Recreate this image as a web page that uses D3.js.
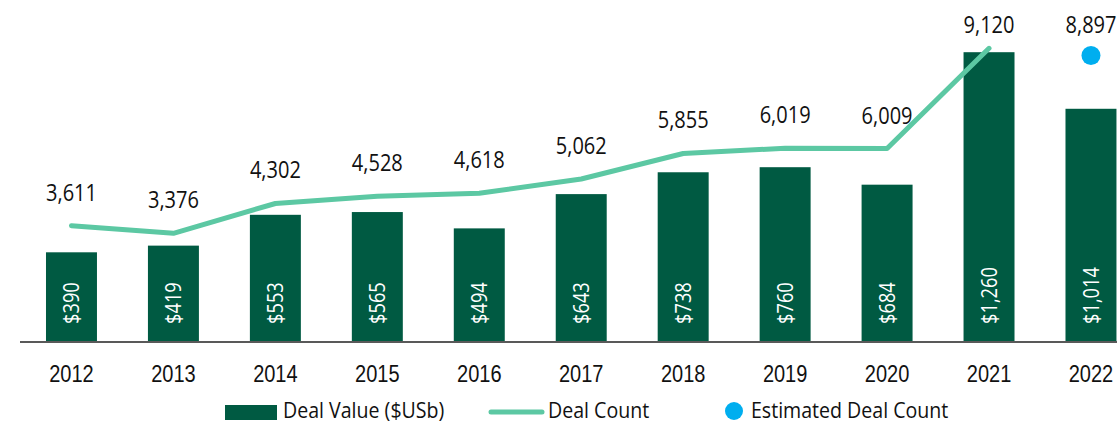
<!DOCTYPE html>
<html>
<head>
<meta charset="utf-8">
<script src="https://cdn.jsdelivr.net/npm/d3@7"></script>
<style>
  html, body { margin: 0; padding: 0; background: #fff; }
  svg { display: block; font-family: "Open Sans", "Liberation Sans", sans-serif; }
</style>
</head>
<body>
<svg id="chart" width="1117" height="424"></svg>
<script>
// Yearly deal activity
const years = ["2012","2013","2014","2015","2016","2017","2018","2019","2020","2021","2022"];
const dealValue = [390, 419, 553, 565, 494, 643, 738, 760, 684, 1260, 1014];
const dealCount = [3611, 3376, 4302, 4528, 4618, 5062, 5855, 6019, 6009, 9120];
const estimatedYear = "2022";
const estimatedCount = 8897;
const legendLabels = ["Deal Value ($USb)", "Deal Count", "Estimated Deal Count"];

const colors = { bar: "#005a42", line: "#5cc8a3", dot: "#00aeef", axis: "#595959", text: "#111" };
const squeeze = 0.87;   // horizontal condensing of all type

const svg = d3.select("#chart");
const baseY = 342, topY = 20;

const x = d3.scaleBand().domain(years).range([20.5, 20.5 + 11 * 101.95])
  .paddingInner(0.5).paddingOuter(0.25);
const yVal = d3.scaleLinear().domain([0, 1400]).range([baseY, topY]);
const yCnt = d3.scaleLinear().domain([0, 10000]).range([baseY, topY]);
const cx = d => x(d) + x.bandwidth() / 2;

// Places a condensed text at (px, py), optionally rotated
function place(sel, px, py, rot) {
  sel.attr("x", 0).attr("y", 0)
    .attr("transform", (d, i) => `translate(${px(d, i)},${py(d, i)})` + (rot ? ` rotate(${rot})` : "") + ` scale(${squeeze},1)`);
}

// Bars
svg.append("g").selectAll("rect").data(years).join("rect")
  .attr("x", d => x(d)).attr("width", x.bandwidth())
  .attr("y", (d, i) => yVal(dealValue[i]))
  .attr("height", (d, i) => baseY - yVal(dealValue[i]))
  .attr("fill", colors.bar);

// Values inside bars, reading upward
svg.append("g").selectAll("text").data(years).join("text")
  .attr("text-anchor", "start").attr("dy", "0.36em")
  .attr("fill", "#fff").attr("font-size", 21)
  .text((d, i) => "$" + d3.format(",")(dealValue[i]))
  .call(place, d => cx(d), () => baseY - 18, -90);

// X axis
const xAxis = d3.axisBottom(x).tickSize(0).tickPadding(0);
const gx = svg.append("g").attr("transform", `translate(0,${baseY})`).call(xAxis);
gx.select(".domain").remove();
gx.selectAll("text").attr("font-size", 23).attr("fill", colors.text)
  .attr("font-family", null).attr("dy", null)
  .call(place, () => 0, () => 40);
svg.append("line").attr("x1", 20).attr("x2", 1117).attr("y1", baseY).attr("y2", baseY)
  .attr("stroke", colors.axis).attr("stroke-width", 2);

// Deal count line
const countYears = years.slice(0, dealCount.length);
const line = d3.line().x(d => cx(d[0])).y(d => yCnt(d[1]));
svg.append("path").datum(countYears.map((y, i) => [y, dealCount[i]]))
  .attr("d", line).attr("fill", "none").attr("stroke", colors.line)
  .attr("stroke-width", 5).attr("stroke-linecap", "round").attr("stroke-linejoin", "round");

// Estimated point
svg.append("circle").attr("cx", cx(estimatedYear)).attr("cy", yCnt(estimatedCount))
  .attr("r", 9.5).attr("fill", colors.dot);

// Count labels above the line
const countLabels = countYears.map((y, i) => [y, dealCount[i]]).concat([[estimatedYear, estimatedCount]]);
svg.append("g").selectAll("text").data(countLabels).join("text")
  .attr("text-anchor", "middle").attr("font-size", 23)
  .attr("fill", colors.text)
  .text(d => d3.format(",")(d[1]))
  .call(place, d => cx(d[0]), d => Math.max(yCnt(d[1]) - 25, 33));

// Legend
const lg = svg.append("g").attr("font-size", 22.5).attr("fill", colors.text);
lg.append("rect").attr("x", 225).attr("y", 405).attr("width", 52).attr("height", 15).attr("fill", colors.bar);
lg.append("text").text(legendLabels[0]).call(place, () => 283, () => 417.5);
lg.append("line").attr("x1", 491).attr("x2", 542).attr("y1", 412).attr("y2", 412)
  .attr("stroke", colors.line).attr("stroke-width", 5).attr("stroke-linecap", "round");
lg.append("text").text(legendLabels[1]).call(place, () => 548, () => 417.5);
lg.append("circle").attr("cx", 734).attr("cy", 411).attr("r", 9).attr("fill", colors.dot);
lg.append("text").text(legendLabels[2]).call(place, () => 751, () => 417.5);
</script>
</body>
</html>
